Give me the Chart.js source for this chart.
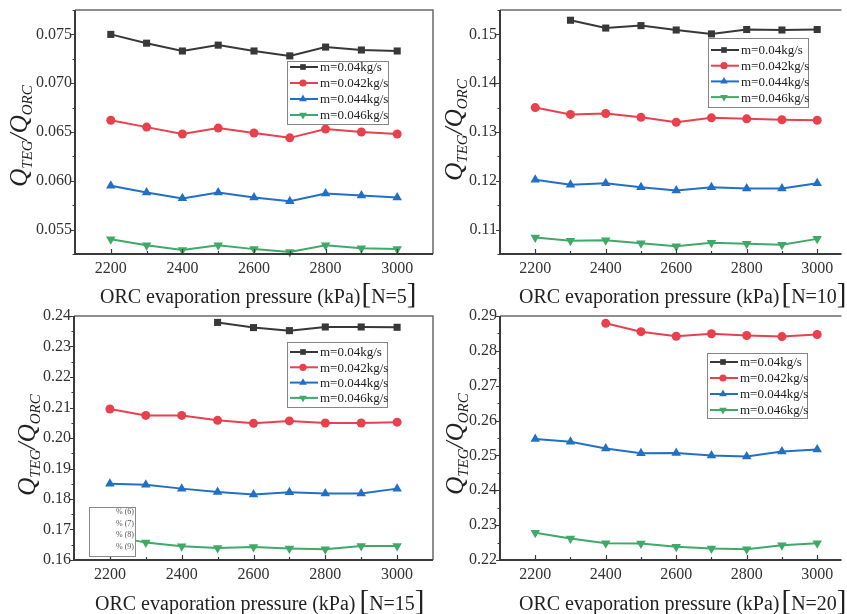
<!DOCTYPE html>
<html>
<head>
<meta charset="utf-8">
<title>Q_TEG/Q_ORC vs ORC evaporation pressure</title>
<script src="https://cdn.jsdelivr.net/npm/chart.js@4/dist/chart.umd.min.js"></script>
<style>
  html, body { margin: 0; padding: 0; background: #fff; }
  body { width: 847px; height: 614px; position: relative; overflow: hidden; }
  canvas { position: absolute; display: block; }
</style>
</head>
<body>
<canvas id="c5"  width="440" height="322" style="left:0;top:-10px;width:440px;height:322px"></canvas>
<canvas id="c10" width="407" height="322" style="left:440px;top:-10px;width:407px;height:322px"></canvas>
<canvas id="c15" width="440" height="318" style="left:0;top:296px;width:440px;height:318px"></canvas>
<canvas id="c20" width="407" height="318" style="left:440px;top:296px;width:407px;height:318px"></canvas>
<script>
// ORC evaporation pressure (kPa)
const pressure = [2200, 2300, 2400, 2500, 2600, 2700, 2800, 2900, 3000];
const massFlowLabels = ['m=0.04kg/s', 'm=0.042kg/s', 'm=0.044kg/s', 'm=0.046kg/s'];

// Q_TEG / Q_ORC, N = 5
const n5_m040 = [0.0750, 0.0741, 0.0733, 0.0739, 0.0733, 0.0728, 0.0737, 0.0734, 0.0733];
const n5_m042 = [0.0662, 0.0655, 0.0648, 0.0654, 0.0649, 0.0644, 0.0653, 0.0650, 0.0648];
const n5_m044 = [0.0595, 0.0588, 0.0582, 0.0588, 0.0583, 0.0579, 0.0587, 0.0585, 0.0583];
const n5_m046 = [0.0540, 0.0534, 0.0529, 0.0534, 0.0530, 0.0527, 0.0534, 0.0531, 0.0530];

// N = 10
const n10_m040 = [null, 0.1529, 0.1513, 0.1518, 0.1509, 0.1501, 0.1510, 0.1509, 0.1510];
const n10_m042 = [0.1350, 0.1336, 0.1338, 0.1330, 0.1320, 0.1329, 0.1327, 0.1325, 0.1324];
const n10_m044 = [0.1202, 0.1192, 0.1195, 0.1187, 0.1180, 0.1187, 0.1184, 0.1184, 0.1195];
const n10_m046 = [0.1084, 0.1077, 0.1078, 0.1072, 0.1066, 0.1073, 0.1071, 0.1069, 0.1081];

// N = 15
const n15_m040 = [null, null, null, 0.2379, 0.2362, 0.2352, 0.2364, 0.2364, 0.2363];
const n15_m042 = [0.2095, 0.2074, 0.2074, 0.2058, 0.2048, 0.2056, 0.2049, 0.2049, 0.2052];
const n15_m044 = [0.1850, 0.1847, 0.1834, 0.1823, 0.1815, 0.1822, 0.1818, 0.1818, 0.1834];
const n15_m046 = [0.1680, 0.1657, 0.1645, 0.1639, 0.1643, 0.1638, 0.1635, 0.1646, 0.1646];

// N = 20
const n20_m040 = [null, null, null, null, null, null, null, null, null];
const n20_m042 = [null, null, 0.2879, 0.2855, 0.2842, 0.2849, 0.2844, 0.2841, 0.2847];
const n20_m044 = [0.2547, 0.2539, 0.2520, 0.2506, 0.2507, 0.2500, 0.2497, 0.2511, 0.2517];
const n20_m046 = [0.2278, 0.2262, 0.2248, 0.2247, 0.2238, 0.2233, 0.2231, 0.2242, 0.2248];

// Axis tick values
const xTicks = [2200, 2400, 2600, 2800, 3000];
const yTicksN5 = [0.055, 0.060, 0.065, 0.070, 0.075];
const yTicksN10 = [0.11, 0.12, 0.13, 0.14, 0.15];
const yTicksN15 = [0.16, 0.17, 0.18, 0.19, 0.20, 0.21, 0.22, 0.23, 0.24];
const yTicksN20 = [0.22, 0.23, 0.24, 0.25, 0.26, 0.27, 0.28, 0.29];

const SERIF = '"Liberation Serif", "Times New Roman", serif';

// Line / marker style per mass flow rate
const seriesStyle = [
  { color: '#383838', pointStyle: 'rect',     radius: 5,   rotation: 0 },
  { color: '#e8404c', pointStyle: 'circle',   radius: 4.5, rotation: 0 },
  { color: '#2170c6', pointStyle: 'triangle', radius: 5.5, rotation: 0 },
  { color: '#3faa68', pointStyle: 'triangle', radius: 5.5, rotation: 180 }
];

function buildDatasets(seriesList) {
  return seriesList.map((values, i) => {
    const st = seriesStyle[i];
    return {
      label: massFlowLabels[i],
      data: pressure.map((p, j) => ({ x: p, y: values[j] })),
      borderColor: st.color,
      backgroundColor: st.color,
      borderWidth: 2,
      pointStyle: st.pointStyle,
      pointRadius: st.radius,
      pointRotation: st.rotation,
      pointBorderWidth: 0,
      pointHoverRadius: st.radius,
      tension: 0,
      clip: false
    };
  });
}

// Frame, ticks, axis titles, in-plot legend
function decorPlugin(cfg) {
  return {
    id: 'panelDecor',
    afterDraw(chart) {
      const ctx = chart.ctx;
      const a = chart.chartArea;
      const xs = chart.scales.x, ys = chart.scales.y;
      ctx.save();

      // top / right frame
      ctx.strokeStyle = '#6a6a6a';
      ctx.lineWidth = 1.5;
      ctx.beginPath();
      ctx.moveTo(a.left, a.top);
      ctx.lineTo(a.right, a.top);
      if (cfg.rightBorder) ctx.lineTo(a.right, a.bottom);
      ctx.stroke();

      // axis lines
      ctx.strokeStyle = '#3a3a3a';
      ctx.lineWidth = 2;
      ctx.beginPath();
      ctx.moveTo(a.left, a.top);
      ctx.lineTo(a.left, a.bottom);
      ctx.lineTo(a.right, a.bottom);
      ctx.stroke();

      // tick marks
      ctx.lineWidth = 1.2;
      ctx.strokeStyle = '#3a3a3a';
      ctx.beginPath();
      const yt = cfg.yTicks;
      const ystep = yt[1] - yt[0];
      for (let k = 0; k < yt.length; k++) {
        const py = Math.round(ys.getPixelForValue(yt[k])) + 0.5;
        ctx.moveTo(a.left - 4, py); ctx.lineTo(a.left, py);
      }
      for (let k = -1; k < yt.length; k++) {
        const v = yt[0] + (k + 0.5) * ystep;
        if (v <= ys.min || v >= ys.max) continue;
        const py = Math.round(ys.getPixelForValue(v)) + 0.5;
        ctx.moveTo(a.left - 2.5, py); ctx.lineTo(a.left, py);
      }
      for (let k = 0; k < xTicks.length; k++) {
        const px = Math.round(xs.getPixelForValue(xTicks[k])) + 0.5;
        ctx.moveTo(px, a.bottom); ctx.lineTo(px, a.bottom - 5);
        const mv = xTicks[k] + 100;
        if (mv < xs.max) {
          const mx = Math.round(xs.getPixelForValue(mv)) + 0.5;
          ctx.moveTo(mx, a.bottom); ctx.lineTo(mx, a.bottom - 3);
        }
      }
      ctx.stroke();

      // y title: Q_TEG / Q_ORC
      ctx.save();
      ctx.translate(cfg.yTitle.x, cfg.yTitle.y);
      ctx.rotate(-Math.PI / 2);
      ctx.fillStyle = '#222';
      ctx.textBaseline = 'alphabetic';
      ctx.textAlign = 'left';
      const big = 'italic 25px ' + SERIF, small = 'italic 15px ' + SERIF;
      const parts = [['Q', big, 0], ['TEG', small, 5], ['/', big, 0], ['Q', big, 0], ['ORC', small, 5]];
      let total = 0;
      parts.forEach(p => { ctx.font = p[1]; total += ctx.measureText(p[0]).width; });
      let cx = -total / 2;
      parts.forEach(p => { ctx.font = p[1]; ctx.fillText(p[0], cx, p[2]); cx += ctx.measureText(p[0]).width; });
      ctx.restore();

      // x title with bracketed N
      ctx.fillStyle = '#222';
      ctx.textBaseline = 'alphabetic';
      ctx.textAlign = 'left';
      let tx = cfg.xTitle.x;
      const by = cfg.xTitle.y;
      ctx.font = '20px ' + SERIF;
      ctx.fillText('ORC evaporation pressure (kPa)', tx, by);
      tx += ctx.measureText('ORC evaporation pressure (kPa)').width + cfg.xTitle.gap;
      ctx.font = '29px ' + SERIF;
      ctx.fillText('[', tx, by);
      tx += ctx.measureText('[').width;
      ctx.font = '20px ' + SERIF;
      ctx.fillText(cfg.xTitle.n, tx, by);
      tx += ctx.measureText(cfg.xTitle.n).width;
      ctx.font = '29px ' + SERIF;
      ctx.fillText(']', tx, by);

      // legend box
      const L = cfg.legend;
      ctx.fillStyle = '#fff';
      ctx.fillRect(L.x, L.y, L.w, L.h);
      ctx.strokeStyle = '#858585';
      ctx.lineWidth = 1;
      ctx.strokeRect(L.x + 0.5, L.y + 0.5, L.w, L.h);
      for (let i = 0; i < massFlowLabels.length; i++) {
        const st = seriesStyle[i];
        const ry = L.row0 + i * L.gap;
        ctx.strokeStyle = st.color;
        ctx.fillStyle = st.color;
        ctx.lineWidth = 2;
        ctx.beginPath();
        ctx.moveTo(L.x + 3, ry); ctx.lineTo(L.x + 31, ry);
        ctx.stroke();
        Chart.helpers.drawPoint(ctx, { pointStyle: st.pointStyle, radius: st.radius * 0.8, rotation: st.rotation, borderWidth: 0 }, L.x + 16, ry);
        ctx.fillStyle = '#222';
        ctx.font = '13px ' + SERIF;
        ctx.textBaseline = 'middle';
        ctx.fillText(massFlowLabels[i], L.x + 33, ry + 1);
      }

      // small inset note box
      if (cfg.note) {
        const nb = cfg.note;
        ctx.fillStyle = '#fff';
        ctx.fillRect(nb.x, nb.y, nb.w, nb.h);
        ctx.strokeStyle = '#8a8a8a';
        ctx.lineWidth = 1;
        ctx.strokeRect(nb.x + 0.5, nb.y + 0.5, nb.w, nb.h);
        ctx.fillStyle = '#555';
        ctx.font = '8px ' + SERIF;
        ctx.textAlign = 'right';
        ctx.textBaseline = 'middle';
        nb.lines.forEach((t, i) => ctx.fillText(t, nb.x + nb.w - 1, nb.rows[i]));
      }
      ctx.restore();
    }
  };
}

function makePanel(canvasId, p) {
  const tickFont = { family: SERIF, size: 16 };
  return new Chart(document.getElementById(canvasId), {
    type: 'line',
    data: { datasets: buildDatasets(p.series) },
    options: {
      responsive: false,
      animation: false,
      events: [],
      layout: { padding: { left: 0, top: 20, right: p.rightPad, bottom: 0 } },
      plugins: { legend: { display: false }, tooltip: { enabled: false } },
      scales: {
        x: {
          type: 'linear',
          min: p.xMin, max: p.xMax,
          afterBuildTicks: s => { s.ticks = xTicks.map(v => ({ value: v })); },
          afterFit: s => { s.height = p.xAxisH; },
          grid: { display: false, drawTicks: false, tickLength: 0 },
          border: { display: false },
          ticks: { font: tickFont, color: '#333', padding: 5, maxRotation: 0, autoSkip: false,
                   callback: v => String(v) }
        },
        y: {
          type: 'linear',
          min: p.yMin, max: p.yMax,
          afterBuildTicks: s => { s.ticks = p.yTicks.map(v => ({ value: v })); },
          afterFit: s => { s.width = p.yAxisW; },
          grid: { display: false, drawTicks: false, tickLength: 0 },
          border: { display: false },
          ticks: { font: tickFont, color: '#333', padding: 3, autoSkip: false,
                   callback: v => v.toFixed(p.decimals) }
        }
      }
    },
    plugins: [decorPlugin(p)]
  });
}

makePanel('c5', {
  series: [n5_m040, n5_m042, n5_m044, n5_m046],
  xMin: 2100, xMax: 3100, yMin: 0.0525, yMax: 0.0775, yTicks: yTicksN5, decimals: 3,
  yAxisW: 75, xAxisH: 58, rightPad: 7, rightBorder: true,
  yTitle: { x: 27, y: 146 },
  xTitle: { x: 100, y: 313, gap: 1, n: 'N=5' },
  legend: { x: 287, y: 71, w: 101, h: 63, row0: 77, gap: 16 }
});

makePanel('c10', {
  series: [n10_m040, n10_m042, n10_m044, n10_m046],
  xMin: 2100, xMax: 3069, yMin: 0.105, yMax: 0.155, yTicks: yTicksN10, decimals: 2,
  yAxisW: 60, xAxisH: 58, rightPad: 0, rightBorder: false,
  yTitle: { x: 22, y: 140 },
  xTitle: { x: 79, y: 313, gap: 2, n: 'N=10' },
  legend: { x: 268, y: 48, w: 100, h: 69, row0: 60, gap: 15.7 }
});

makePanel('c15', {
  series: [n15_m040, n15_m042, n15_m044, n15_m046],
  xMin: 2100, xMax: 3100, yMin: 0.16, yMax: 0.24, yTicks: yTicksN15, decimals: 2,
  yAxisW: 74, xAxisH: 54, rightPad: 7, rightBorder: true,
  yTitle: { x: 35, y: 149 },
  xTitle: { x: 95, y: 314, gap: 4, n: 'N=15' },
  legend: { x: 287, y: 46, w: 100, h: 65, row0: 56, gap: 15.3 },
  note: { x: 89, y: 211, w: 46, h: 49, rows: [216, 228, 239, 251],
          lines: ['% (6)', '% (7)', '% (8)', '% (9)'] }
});

makePanel('c20', {
  series: [n20_m040, n20_m042, n20_m044, n20_m046],
  xMin: 2100, xMax: 3069, yMin: 0.22, yMax: 0.29, yTicks: yTicksN20, decimals: 2,
  yAxisW: 60, xAxisH: 54, rightPad: 0, rightBorder: false,
  yTitle: { x: 23, y: 148 },
  xTitle: { x: 79, y: 314, gap: 2, n: 'N=20' },
  legend: { x: 267, y: 57, w: 100, h: 65, row0: 66, gap: 16 }
});
</script>
</body>
</html>
